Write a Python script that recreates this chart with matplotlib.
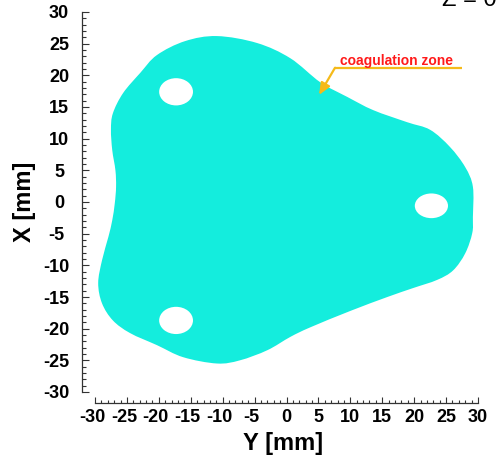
import matplotlib
matplotlib.use("Agg")
import matplotlib.pyplot as plt
from matplotlib.patches import PathPatch, Ellipse
from matplotlib.path import Path
from matplotlib.transforms import ScaledTranslation

plt.rcParams['font.family'] = ['Liberation Sans', 'DejaVu Sans']

# Outline of the coagulation zone, clockwise from the top (Y, X in mm)
zone_y = [-10.9, -4.6, 0.6, 5.3, 9.5, 13.6, 18.9, 22.5, 25.6, 28.0, 29.2,
          29.2, 29.1, 28.0, 26.1, 23.6, 19.8, 15.8, 10.0, 3.7, 0.6, -3.0,
          -7.3, -10.9, -16.2, -20.3, -24.5, -27.2, -28.9, -29.5, -28.9,
          -27.9, -27.3, -26.9, -26.7, -26.8, -27.3, -27.5, -27.2, -25.6,
          -22.9, -20.3, -15.9]
zone_x = [26.2, 25.1, 22.7, 18.9, 16.6, 14.5, 12.6, 11.4, 8.7, 5.5, 2.4,
          -2.4, -4.9, -8.1, -10.8, -12.3, -13.6, -15.0, -17.2, -19.8, -21.3,
          -23.4, -25.0, -25.5, -24.5, -22.6, -20.7, -18.7, -16.0, -12.8, -9.2,
          -5.5, -2.9, -0.2, 2.4, 5.0, 8.2, 11.4, 14.0, 17.2,
          20.4, 23.2, 25.4]

# Electrode holes: centre (Y, X), width and height in mm
hole_y = [-17.3, 22.7, -17.3]
hole_x = [17.4, -0.6, -18.7]
hole_w = [5.3, 5.2, 5.3]
hole_h = [4.3, 3.9, 4.3]

tick_values = list(range(-30, 31, 5))
tick_labels = [str(v) for v in tick_values]

annot_text = "coagulation zone"
annot_text_pos = (8.4, 21.6)
annot_elbow = (7.6, 21.2)
annot_end = (27.5, 21.2)
annot_tip = (5.1, 16.9)

zone_color = '#14EDDD'
arrow_color = '#F5BA1A'
px = 0.72  # points per pixel at dpi 100


def smooth_closed_path(xs, ys):
    """Closed Bezier path passing through every outline point."""
    n = len(xs)
    pts = list(zip(xs, ys))
    verts = [pts[0]]
    codes = [Path.MOVETO]
    for i in range(n):
        p0 = pts[i - 1]
        p1 = pts[i]
        p2 = pts[(i + 1) % n]
        p3 = pts[(i + 2) % n]
        c1 = (p1[0] + (p2[0] - p0[0]) / 6, p1[1] + (p2[1] - p0[1]) / 6)
        c2 = (p2[0] - (p3[0] - p1[0]) / 6, p2[1] - (p3[1] - p1[1]) / 6)
        verts += [c1, c2, p2]
        codes += [Path.CURVE4] * 3
    verts.append(pts[0])
    codes.append(Path.CLOSEPOLY)
    return Path(verts, codes)


fig = plt.figure(figsize=(4.96, 4.55), dpi=100)
ax = fig.add_axes([95 / 496, (455 - 392) / 455, 383 / 496, 380 / 455])
ax.set_xlim(-30, 30)
ax.set_ylim(-30, 30)

ax.add_patch(PathPatch(smooth_closed_path(zone_y, zone_x),
                       facecolor=zone_color, edgecolor='none', zorder=1))
for cy, cx, w, h in zip(hole_y, hole_x, hole_w, hole_h):
    ax.add_patch(Ellipse((cy, cx), w, h, facecolor='white',
                         edgecolor='none', zorder=2))

# Annotation: leader line with arrow pointing into the zone
ax.plot([annot_elbow[0], annot_end[0]], [annot_elbow[1], annot_end[1]],
        color=arrow_color, lw=1.6, solid_capstyle='butt', zorder=3)
ax.annotate('', xy=annot_tip, xytext=annot_elbow,
            arrowprops=dict(arrowstyle='-|>,head_length=0.7,head_width=0.3',
                            color=arrow_color, lw=1.6,
                            shrinkA=0, shrinkB=0), zorder=3)
ax.text(annot_text_pos[0], annot_text_pos[1], annot_text, color='#FF1A1A',
        fontsize=10, fontweight='bold', va='baseline', ha='left', zorder=4)

# Detached axes in the plotting style of the solver
for side in ('top', 'right'):
    ax.spines[side].set_visible(False)
ax.spines['left'].set_position(('outward', 13 * px))
ax.spines['bottom'].set_position(('outward', 11 * px))
for side in ('left', 'bottom'):
    ax.spines[side].set_color('#333333')
    ax.spines[side].set_linewidth(0.9)

ax.set_xticks(tick_values)
ax.set_yticks(tick_values)
ax.set_xticks(range(-30, 31), minor=True)
ax.set_yticks(range(-30, 31), minor=True)
ax.set_xticklabels(tick_labels)
ax.set_yticklabels(tick_labels)
ax.tick_params(which='both', direction='in', color='#333333', width=0.8)
ax.tick_params(which='major', length=6.5 * px)
ax.tick_params(which='minor', length=3.5 * px)
ax.tick_params(axis='x', which='major', pad=6 * px, labelsize=13)
ax.tick_params(axis='y', which='major', pad=23 * px, labelsize=13)

ax.set_xlabel('Y [mm]', fontsize=17, fontweight='bold')
ax.set_ylabel('X [mm]', fontsize=17, fontweight='bold')
ax.xaxis.set_label_coords(0.49, -0.105)
ax.yaxis.set_label_coords(-0.154, 0.5)

fig.text(442 / 496, (455 - 6.5) / 455, 'Z = 0', fontsize=17,
         ha='left', va='baseline')

# Digits centred on the tick, with the minus sign hanging to the left
shift = ScaledTranslation(-3 / 100, 0, fig.dpi_scale_trans)
for lab in ax.get_xticklabels():
    lab.set_fontweight('bold')
    if lab.get_text().startswith('-'):
        lab.set_transform(lab.get_transform() + shift)
for lab in ax.get_yticklabels():
    lab.set_fontweight('bold')
    lab.set_horizontalalignment('center')
    if lab.get_text().startswith('-'):
        lab.set_transform(lab.get_transform() + shift)

fig.savefig('out.png', dpi=100)
